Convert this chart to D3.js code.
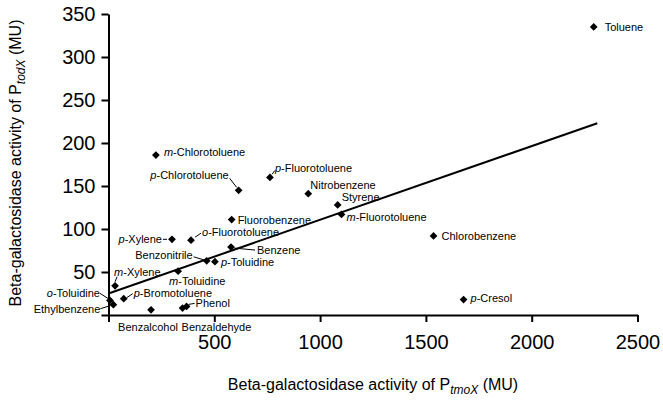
<!DOCTYPE html>
<html>
<head>
<meta charset="utf-8">
<script src="https://cdn.jsdelivr.net/npm/d3@7"></script>
<style>
  html, body { margin: 0; padding: 0; background: #fff; }
  svg { display: block; font-family: "Liberation Sans", Arial, sans-serif; }
  .tick text { font-size: 20px; fill: #000; }
  .tick line, .domain { stroke: #000; stroke-width: 2px; }
  .pt-label { font-size: 11px; fill: #000; }
  .leader { stroke: #000; stroke-width: 1px; }
  .axis-title { font-size: 16px; fill: #000; }
</style>
</head>
<body>
<svg id="chart" width="663" height="404"></svg>
<script>
// Compounds, P_tmoX activity (x) and P_todX activity (y), in MU
const compounds = [
  "Toluene", "m-Chlorotoluene", "p-Chlorotoluene", "p-Fluorotoluene", "Nitrobenzene",
  "Styrene", "m-Fluorotoluene", "Chlorobenzene", "p-Cresol", "Fluorobenzene",
  "o-Fluorotoluene", "p-Xylene", "Benzene", "Benzonitrile", "p-Toluidine",
  "m-Toluidine", "m-Xylene", "o-Toluidine", "Ethylbenzene", "p-Bromotoluene",
  "Benzalcohol", "Benzaldehyde", "Phenol"
];
const tmoX = [2293, 224, 615, 763, 944, 1083, 1101, 1536, 1678, 582, 390, 300, 579, 464, 503, 329, 31, 7, 23, 72, 201, 350, 369];
const todX = [335, 186, 145, 160, 141, 128, 117, 92, 18, 111, 87, 88, 79, 63, 62, 51, 34, 17, 12, 19, 6, 8, 10];

// linear fit drawn through the cloud
const fitX = [0, 2310];
const fitY = [25, 223];

const xTicks = [0, 500, 1000, 1500, 2000, 2500];
const yTicks = [0, 50, 100, 150, 200, 250, 300, 350];

// label placement: [dx, dy, anchor, leader line (x1,y1,x2,y2) or null], offsets in px from the point
const labelLayout = {
  "Toluene":        [11, 0, "start", null],
  "m-Chlorotoluene":[8, -3, "start", null],
  "p-Chlorotoluene":[-10, -15, "end", [-9, -12, -2, -3]],
  "p-Fluorotoluene":[5, -9, "start", [2, -3, 5, -7]],
  "Nitrobenzene":   [2, -9, "start", null],
  "Styrene":        [4, -8, "start", null],
  "m-Fluorotoluene":[5, 3, "start", null],
  "Chlorobenzene":  [8, 0, "start", null],
  "p-Cresol":       [7, -1, "start", null],
  "Fluorobenzene":  [6, 0, "start", null],
  "o-Fluorotoluene":[11, -8, "start", [4, -3, 10, -7]],
  "p-Xylene":       [-10, 0, "end", [-9, 0, -5, 0]],
  "Benzene":        [26, 3, "start", [3, 1, 24, 3]],
  "Benzonitrile":   [-14, -6, "end", [-13, -4, -3, -1]],
  "p-Toluidine":    [6, 0, "start", null],
  "m-Toluidine":    [-9, 10, "start", null],
  "m-Xylene":       [-1, -14, "start", [2, -9, 0, -4]],
  "o-Toluidine":    [-10, -7, "end", [-10, -7, -2, -2]],
  "Ethylbenzene":   [-13, 4, "end", [-13, 4, -3, 1]],
  "p-Bromotoluene": [10, -6, "start", [3, -1, 9, -5]],
  "Benzalcohol":    [-3, 17, "middle", null],
  "Benzaldehyde":   [-1, 19, "start", null],
  "Phenol":         [9, -3, "start", [2, -2, 8, -3]]
};

const svg = d3.select("#chart");

const x = d3.scaleLinear().domain([0, 2500]).range([108.5, 637.5]);
const y = d3.scaleLinear().domain([0, 350]).range([315, 14]);

// axes
svg.append("g")
  .attr("transform", `translate(0,${y(0)})`)
  .call(d3.axisBottom(x)
    .tickValues(xTicks)
    .tickSize(7)
    .tickSizeOuter(0)
    .tickPadding(8)
    .tickFormat(d => d === 0 ? "" : d))
  .call(g => g.selectAll(".tick text").attr("dy", "0.95em"));

svg.append("g")
  .attr("transform", `translate(${x(0)},0)`)
  .call(d3.axisLeft(y)
    .tickValues(yTicks)
    .tickSize(7)
    .tickSizeOuter(0)
    .tickPadding(6)
    .tickFormat(d => d === 0 ? "" : d));

svg.selectAll(".domain").attr("fill", "none");
svg.selectAll("g").attr("font-family", null).attr("font-size", null);

// fit line
svg.append("line")
  .attr("x1", x(fitX[0])).attr("y1", y(fitY[0]))
  .attr("x2", x(fitX[1])).attr("y2", y(fitY[1]))
  .attr("stroke", "#000")
  .attr("stroke-width", 2);

const points = compounds.map((name, i) => ({ name, vx: tmoX[i], vy: todX[i] }));

// markers
const diamond = d3.symbol().type(d3.symbolSquare).size(30);
svg.append("g").selectAll("path")
  .data(points)
  .join("path")
  .attr("d", diamond)
  .attr("transform", d => `translate(${x(d.vx)},${y(d.vy)}) rotate(45)`)
  .attr("fill", "#000");

// leader lines
svg.append("g").selectAll("line")
  .data(points.filter(d => labelLayout[d.name][3]))
  .join("line")
  .attr("class", "leader")
  .attr("x1", d => x(d.vx) + labelLayout[d.name][3][0])
  .attr("y1", d => y(d.vy) + labelLayout[d.name][3][1])
  .attr("x2", d => x(d.vx) + labelLayout[d.name][3][2])
  .attr("y2", d => y(d.vy) + labelLayout[d.name][3][3]);

// labels, with italic o-/m-/p- prefixes
const labels = svg.append("g").selectAll("text")
  .data(points)
  .join("text")
  .attr("class", "pt-label")
  .attr("x", d => x(d.vx) + labelLayout[d.name][0])
  .attr("y", d => y(d.vy) + labelLayout[d.name][1])
  .attr("dy", "0.36em")
  .attr("text-anchor", d => labelLayout[d.name][2]);

labels.each(function (d) {
  const t = d3.select(this);
  const m = d.name.match(/^([opm])-(.*)$/);
  if (m) {
    t.append("tspan").attr("font-style", "italic").text(m[1]);
    t.append("tspan").text("-" + m[2]);
  } else {
    t.text(d.name);
  }
});

// axis titles
const xt = svg.append("text")
  .attr("class", "axis-title")
  .attr("x", 373)
  .attr("y", 390)
  .attr("text-anchor", "middle");
xt.append("tspan").text("Beta-galactosidase activity of P");
xt.append("tspan").attr("font-style", "italic").attr("font-size", "12px").attr("dy", 4).text("tmoX");
xt.append("tspan").attr("dy", -4).text(" (MU)");

const yt = svg.append("text")
  .attr("class", "axis-title")
  .attr("transform", "translate(21,163) rotate(-90)")
  .attr("text-anchor", "middle");
yt.append("tspan").text("Beta-galactosidase activity of P");
yt.append("tspan").attr("font-style", "italic").attr("font-size", "12px").attr("dy", 4).text("todX");
yt.append("tspan").attr("dy", -4).text(" (MU)");
</script>
</body>
</html>
